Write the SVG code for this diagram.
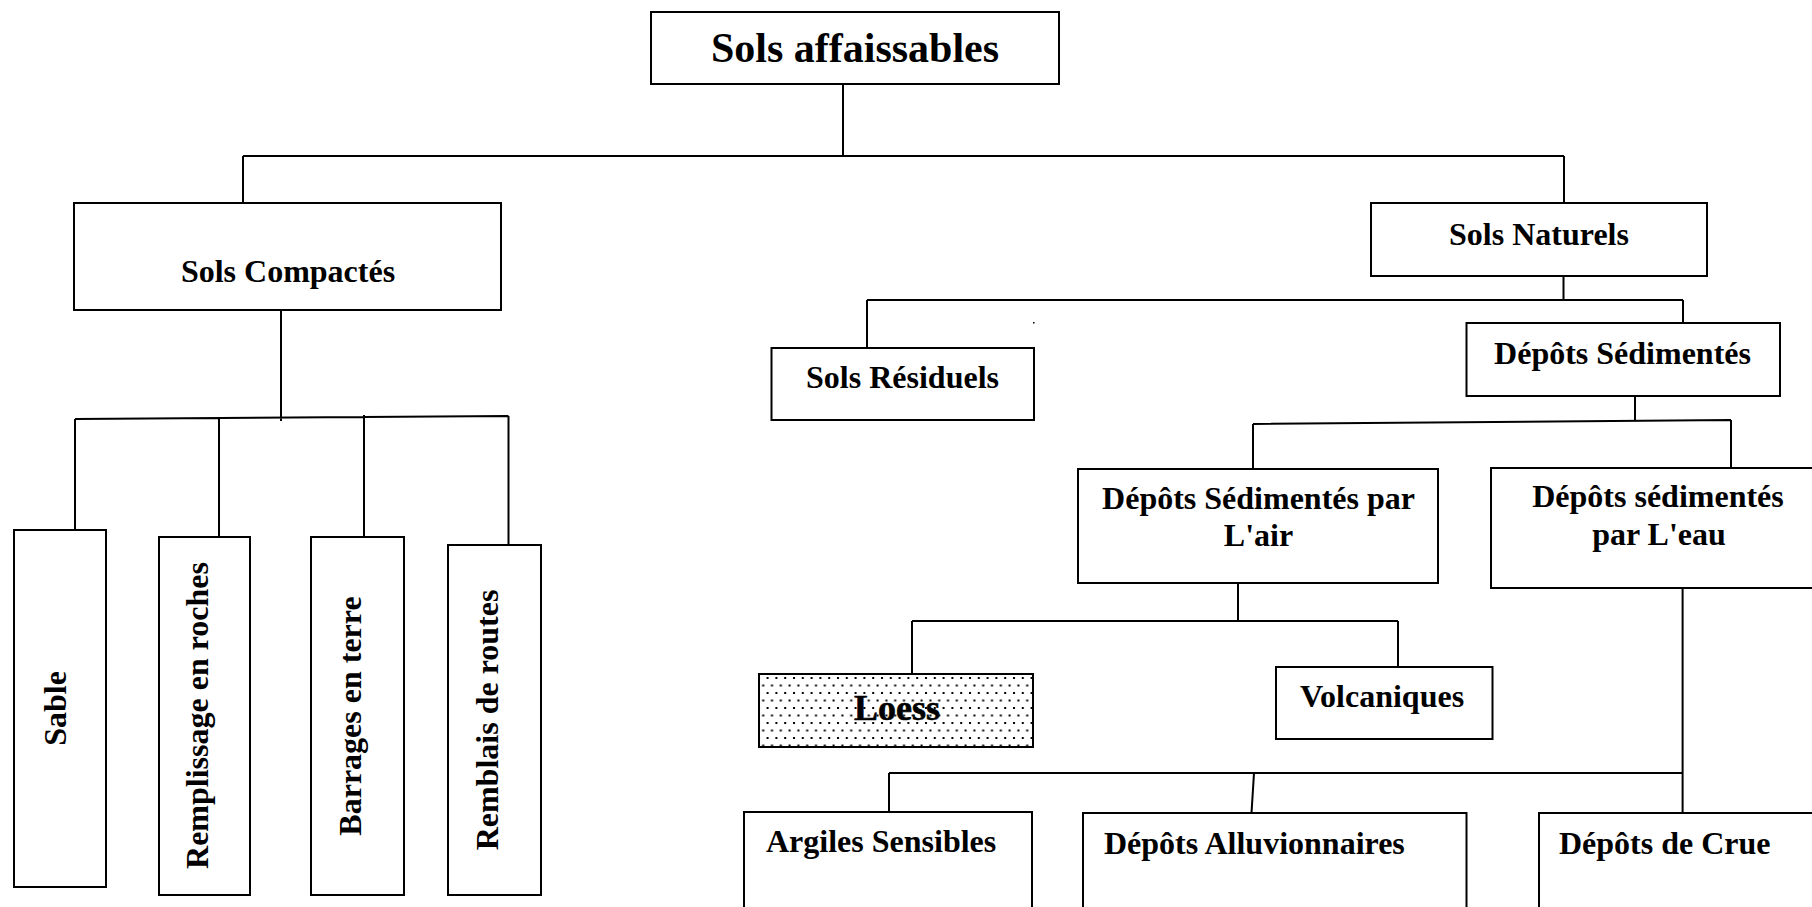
<svg xmlns="http://www.w3.org/2000/svg" width="1812" height="907" viewBox="0 0 1812 907">
<style>
.box{fill:#fff;stroke:#000;stroke-width:2}
.t{font-family:"Liberation Serif","Times New Roman",serif;font-weight:bold;font-size:32px;fill:#000}
.c{text-anchor:middle}
.ln{fill:none;stroke:#000;stroke-width:2}
</style>
<defs>
<pattern id="dots" x="0" y="0" width="8.8" height="15" patternUnits="userSpaceOnUse">
<rect x="1" y="2" width="2" height="2" fill="#000"/>
<rect x="5.4" y="9.5" width="2" height="2" fill="#000"/>
</pattern>
</defs>
<rect width="1812" height="907" fill="#fff"/>
<g id="connectors" class="ln">
<path d="M843,84 V156 M243,156 H1564 M243,156 V203 M1564,156 V203"/>
<path d="M281,310 V421 M75,419 L508.5,416 M75,419 V530 M219,418 V537 M364,415 V537 M508.5,416 V545"/>
<path d="M1563.5,276 V300 M867,300 H1683 M867,300 V348 M1683,300 V323"/>
<path d="M1635,396 V421 M1253,424 L1731,420 M1253,424 V472 M1731,420 V468"/>
<path d="M1238,583 V621 M912,621 H1398 M912,621 V674 M1398,621 V667"/>
<path d="M1682.6,588 V813 M889,773 H1682 M889,773 V812 M1254,773 L1251.5,813"/>
</g>
<rect x="1033" y="322" width="1.5" height="1.5" fill="#000"/>
<g id="sols-affaissables">
<rect class="box" x="651" y="12" width="408" height="72"/>
<text class="t c" x="855" y="62" style="font-size:42px">Sols affaissables</text>
</g>
<g id="sols-compactes">
<rect class="box" x="74" y="203" width="427" height="107"/>
<text class="t c" x="288" y="282">Sols Compactés</text>
</g>
<g id="sable">
<rect class="box" x="14" y="530" width="92" height="357"/>
<text class="t c" transform="translate(65.5,708.5) rotate(-90)">Sable</text>
</g>
<g id="remplissage">
<rect class="box" x="159" y="537" width="91" height="358"/>
<text class="t c" transform="translate(208,715.5) rotate(-90)">Remplissage en roches</text>
</g>
<g id="barrages">
<rect class="box" x="311" y="537" width="93" height="358"/>
<text class="t c" transform="translate(361,716) rotate(-90)">Barrages en terre</text>
</g>
<g id="remblais">
<rect class="box" x="448" y="545" width="93" height="350"/>
<text class="t c" transform="translate(498,720) rotate(-90)">Remblais de routes</text>
</g>
<g id="sols-naturels">
<rect class="box" x="1371" y="203" width="336" height="73"/>
<text class="t c" x="1539" y="245">Sols Naturels</text>
</g>
<g id="sols-residuels">
<rect class="box" x="771.5" y="348" width="262.5" height="72"/>
<text class="t c" x="902.5" y="388">Sols Résiduels</text>
</g>
<g id="depots-sedimentes">
<rect class="box" x="1466.5" y="323" width="313.5" height="73"/>
<text class="t c" x="1622.5" y="364">Dépôts Sédimentés</text>
</g>
<g id="depots-air">
<rect class="box" x="1078" y="469" width="360" height="114"/>
<text class="t c" x="1258.5" y="509">Dépôts Sédimentés par</text>
<text class="t c" x="1258.5" y="546">L'air</text>
</g>
<g id="depots-eau">
<rect class="box" x="1491" y="468" width="330" height="120"/>
<text class="t c" x="1658" y="507">Dépôts sédimentés</text>
<text class="t c" x="1659" y="545">par L'eau</text>
</g>
<g id="loess">
<rect x="759" y="674" width="274" height="73" fill="url(#dots)" stroke="#000" stroke-width="2"/>
<text class="t c" x="897" y="720" style="font-size:36px;stroke:#000;stroke-width:0.6">Loess</text>
</g>
<g id="volcaniques">
<rect class="box" x="1276" y="667" width="216.5" height="72"/>
<text class="t c" x="1382" y="707">Volcaniques</text>
</g>
<g id="argiles">
<rect class="box" x="744" y="812" width="288" height="110"/>
<text class="t" x="766" y="852">Argiles Sensibles</text>
</g>
<g id="alluvionnaires">
<rect class="box" x="1083" y="813" width="383.5" height="110"/>
<text class="t" x="1104" y="854">Dépôts Alluvionnaires</text>
</g>
<g id="crue">
<rect class="box" x="1539" y="813" width="290" height="110"/>
<text class="t" x="1559" y="854">Dépôts de Crue</text>
</g>
</svg>
